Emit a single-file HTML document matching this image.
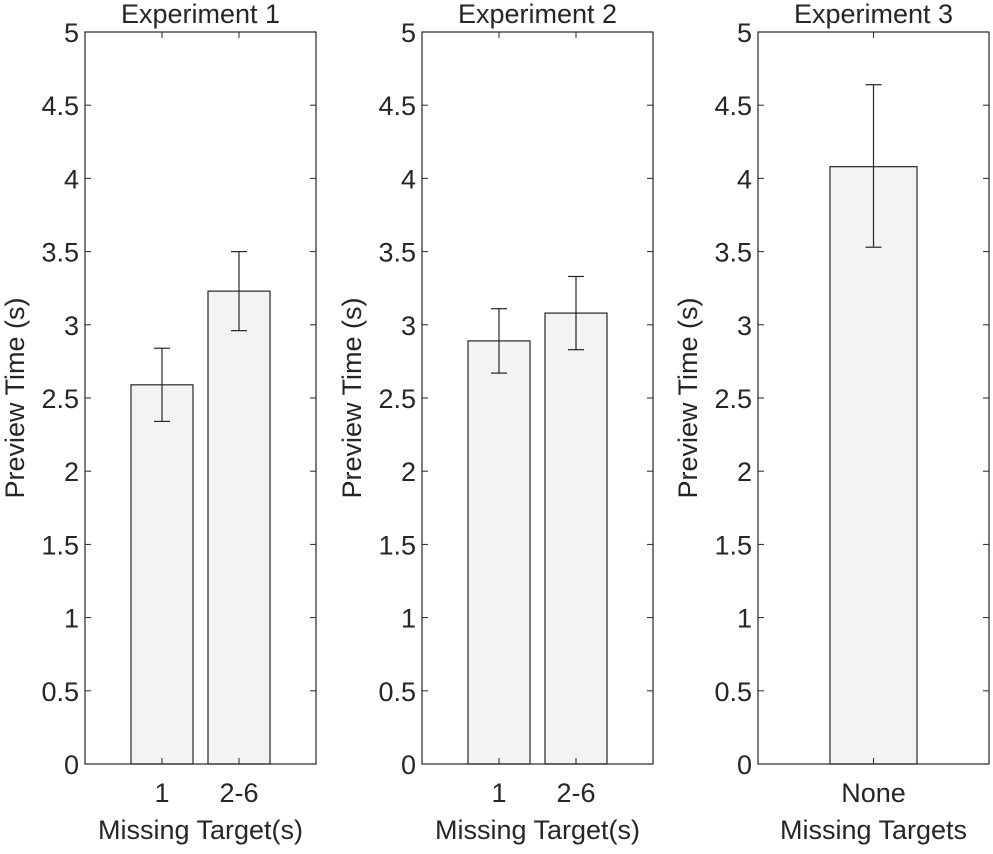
<!DOCTYPE html>
<html><head><meta charset="utf-8"><style>
body{margin:0;background:#fff;}
svg text{font-family:"Liberation Sans",Arial,sans-serif;fill:#262626;}
</style></head><body>
<svg id="chart" width="993" height="849" viewBox="0 0 993 849" xmlns="http://www.w3.org/2000/svg"></svg>
<script>
const panelTitles = ["Experiment 1", "Experiment 2", "Experiment 3"];
const panelXLabels = ["Missing Target(s)", "Missing Target(s)", "Missing Targets"];
const exp1Categories = ["1", "2-6"];
const exp1Means = [2.59, 3.23];
const exp1Lower = [2.34, 2.96];
const exp1Upper = [2.84, 3.50];
const exp2Categories = ["1", "2-6"];
const exp2Means = [2.89, 3.08];
const exp2Lower = [2.67, 2.83];
const exp2Upper = [3.11, 3.33];
const exp3Categories = ["None"];
const exp3Means = [4.08];
const exp3Lower = [3.53];
const exp3Upper = [4.64];
const yTicks = [0, 0.5, 1, 1.5, 2, 2.5, 3, 3.5, 4, 4.5, 5];
const yTickLabels = ["0","0.5","1","1.5","2","2.5","3","3.5","4","4.5","5"];

const svg = document.getElementById('chart');
const NS = "http://www.w3.org/2000/svg";
function mk(tag, attrs, parent){
  const e = document.createElementNS(NS, tag);
  for (const k in attrs) e.setAttribute(k, attrs[k]);
  (parent||svg).appendChild(e); return e;
}
const plotTop = 32, plotBottom = 764, yMax = 5;
const FS = 27;
const yScale = v => plotBottom - (v / yMax) * (plotBottom - plotTop);
const panels = [
  {left:85, cats:exp1Categories, m:exp1Means, lo:exp1Lower, hi:exp1Upper, xmax:3, bw:62},
  {left:422, cats:exp2Categories, m:exp2Means, lo:exp2Lower, hi:exp2Upper, xmax:3, bw:62},
  {left:758, cats:exp3Categories, m:exp3Means, lo:exp3Lower, hi:exp3Upper, xmax:2, bw:87}
];
const W = 231;
panels.forEach((p, pi) => {
  const g = mk('g', {});
  
  
  const xScale = v => p.left + (v / p.xmax) * W;
  p.cats.forEach((c, i) => {
    const cx = xScale(i + 1);
    const r = mk('rect', {x: cx - p.bw/2, y: yScale(p.m[i]), width: p.bw, height: yScale(0) - yScale(p.m[i]), fill:'#f3f3f3', stroke:'#262626', 'stroke-width':1.2}, g);
    
    
    const eb = mk('g', {stroke:'#262626','stroke-width':1.2}, g);
    
    
    mk('line', {x1:cx, x2:cx, y1:yScale(p.lo[i]), y2:yScale(p.hi[i])}, eb);
    mk('line', {x1:cx-8, x2:cx+8, y1:yScale(p.lo[i]), y2:yScale(p.lo[i])}, eb);
    mk('line', {x1:cx-8, x2:cx+8, y1:yScale(p.hi[i]), y2:yScale(p.hi[i])}, eb);
    const t = mk('text', {x:cx, y:802, 'text-anchor':'middle', 'font-size':FS}, g);
    t.textContent = c;
    
    
    mk('line', {x1:cx, x2:cx, y1:plotBottom, y2:plotBottom-6, stroke:'#262626'}, g);
    mk('line', {x1:cx, x2:cx, y1:plotTop, y2:plotTop+6, stroke:'#262626'}, g);
  });
  const fr = mk('rect', {x:p.left, y:plotTop, width:W, height:plotBottom-plotTop, fill:'none', stroke:'#262626', 'stroke-width':1.2}, g);
  
  
  yTicks.forEach((v, i) => {
    mk('line', {x1:p.left, x2:p.left+6, y1:yScale(v), y2:yScale(v), stroke:'#262626'}, g);
    mk('line', {x1:p.left+W, x2:p.left+W-6, y1:yScale(v), y2:yScale(v), stroke:'#262626'}, g);
    const t = mk('text', {x:p.left-6, y:yScale(v)+10, 'text-anchor':'end', 'font-size':FS}, g);
    t.textContent = yTickLabels[i];
    
    
  });
  const tt = mk('text', {x:p.left+W/2, y:23, 'text-anchor':'middle', 'font-size':FS}, g);
  tt.textContent = panelTitles[pi];
  
  
  const xl = mk('text', {x:p.left+W/2, y:839, 'text-anchor':'middle', 'font-size':FS}, g);
  xl.textContent = panelXLabels[pi];
  
  
  const yl = mk('text', {x:0, y:0, 'text-anchor':'middle', 'font-size':FS, transform:'translate(' + (p.left-61) + ',' + ((plotTop+plotBottom)/2) + ') rotate(-90)'}, g);
  yl.textContent = 'Preview Time (s)';
  
  
});
</script>
</body></html>
